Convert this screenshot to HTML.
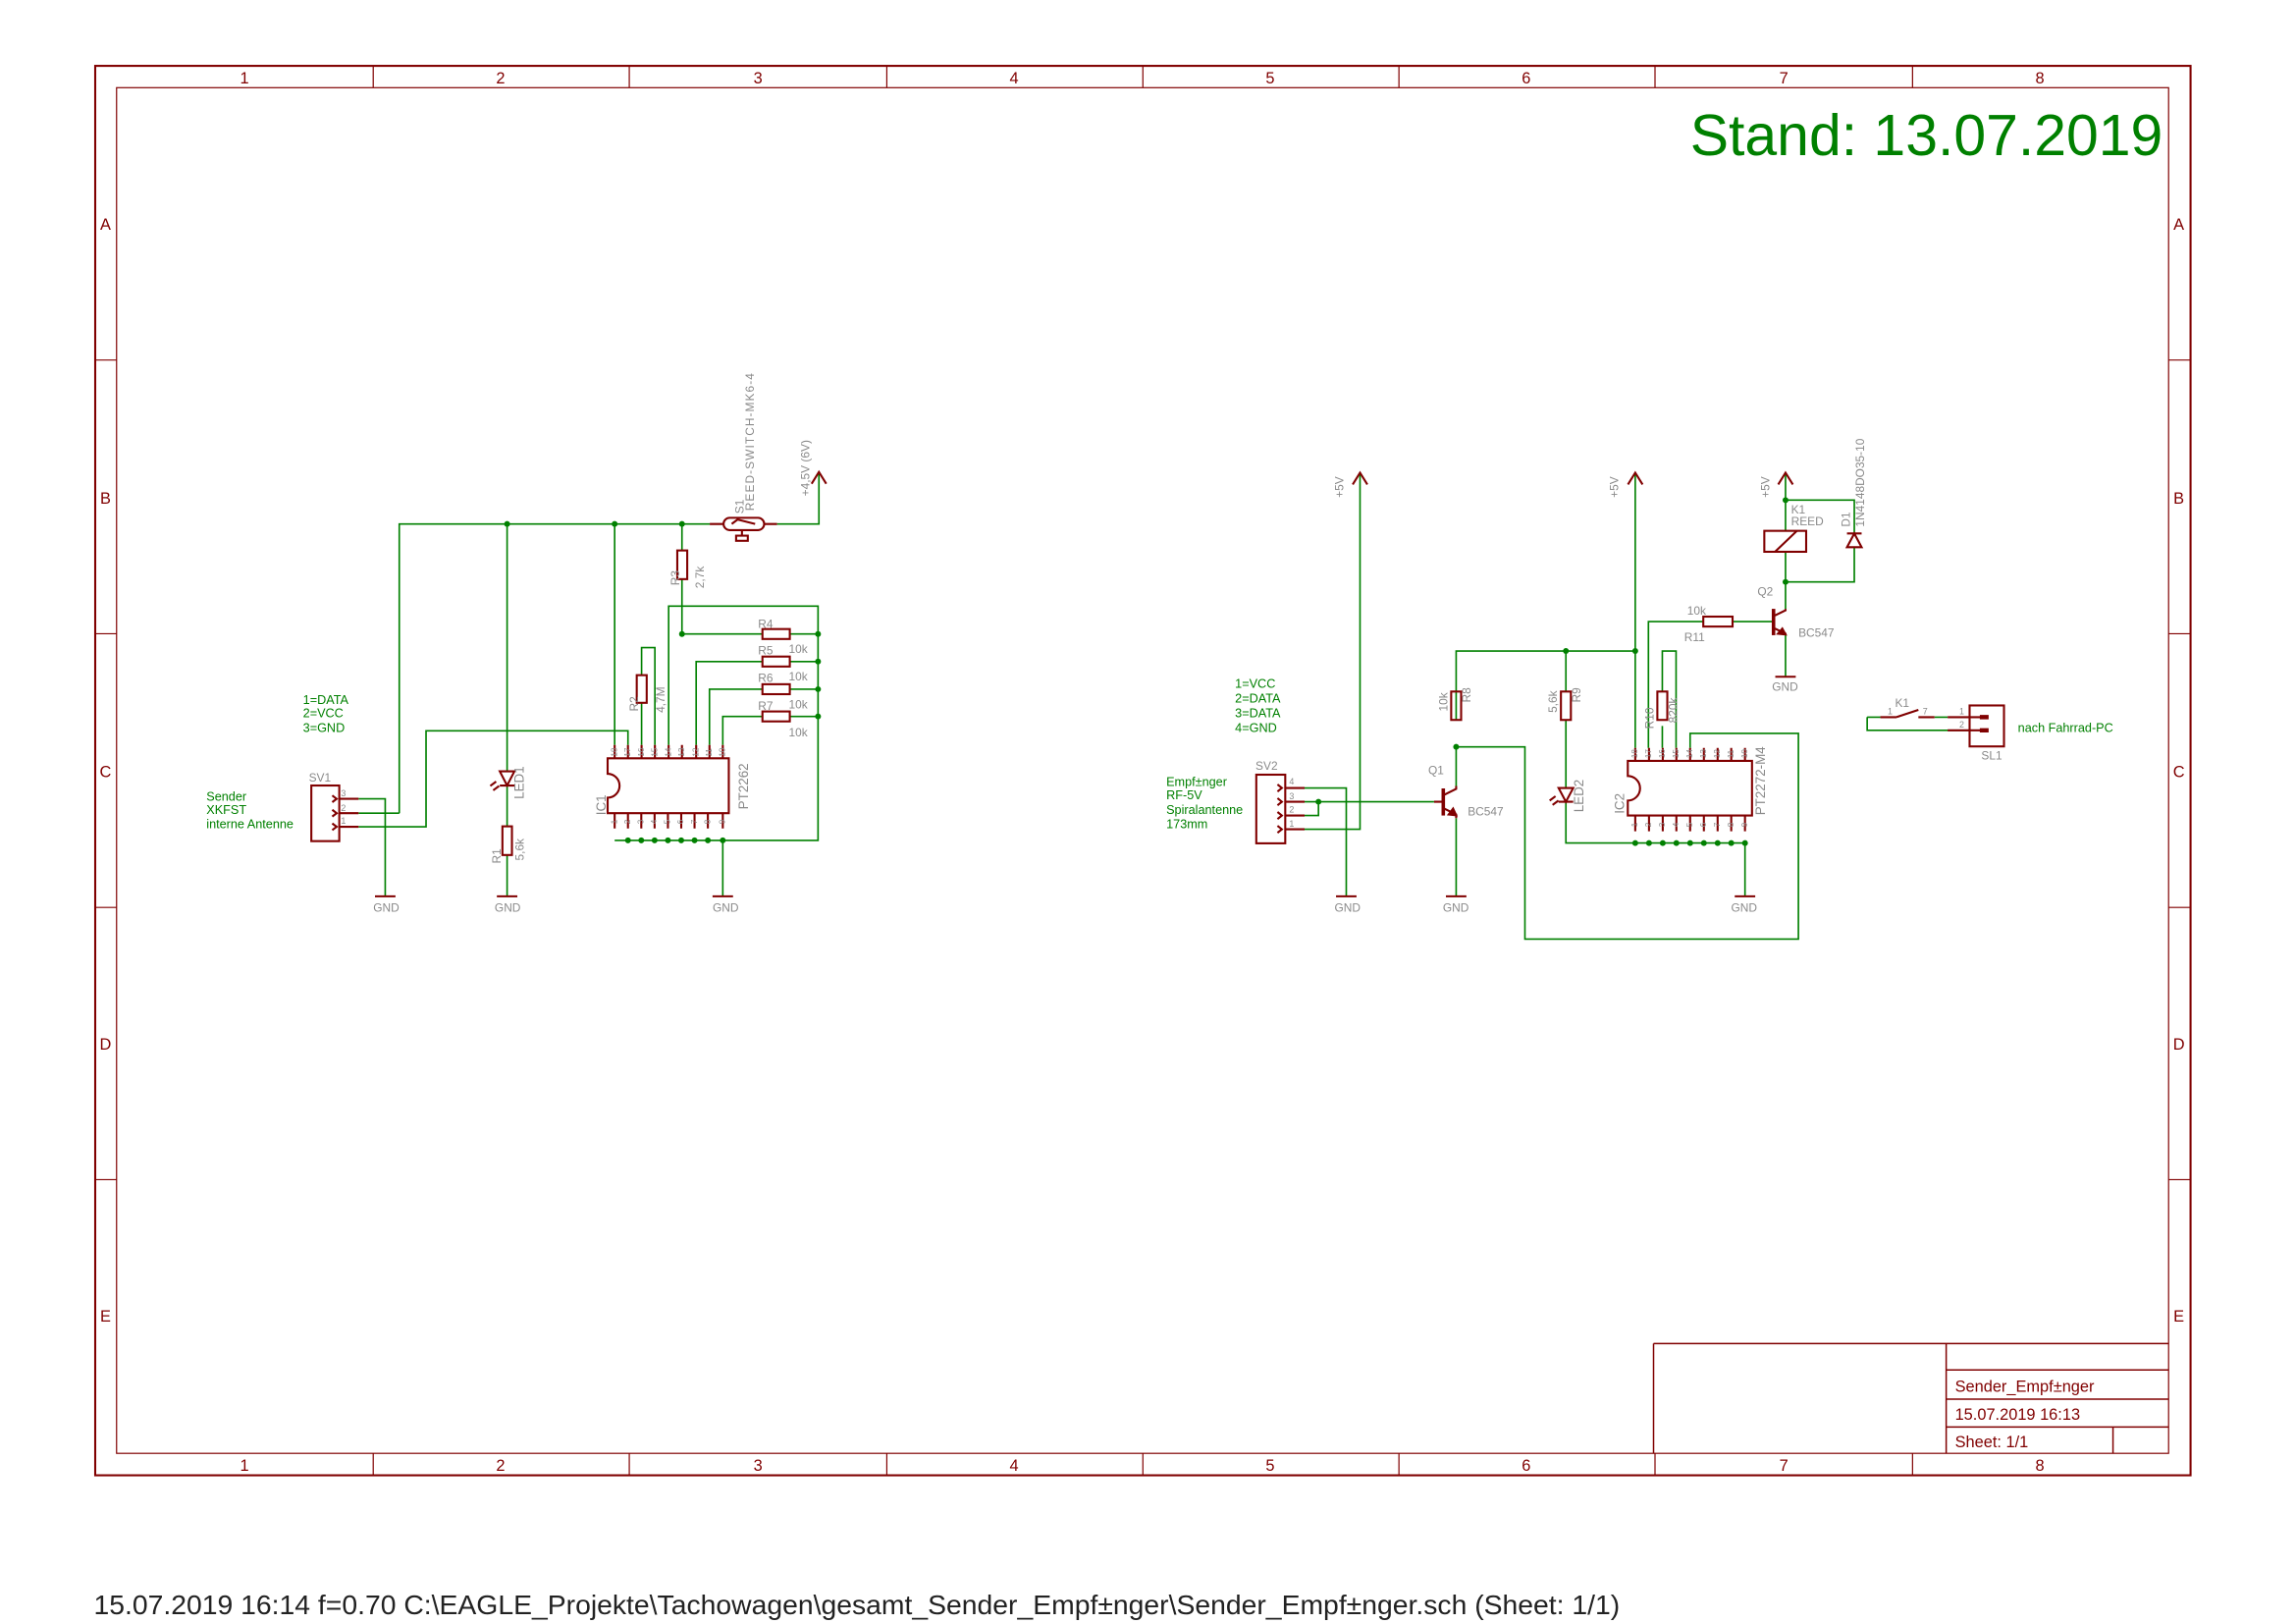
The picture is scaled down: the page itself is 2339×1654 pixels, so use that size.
<!DOCTYPE html>
<html><head><meta charset="utf-8"><style>
html,body{margin:0;padding:0;background:#fff;}
svg{display:block}
.w{stroke:#008000;stroke-width:1.1;fill:none}
.r{stroke:#800000;stroke-width:1.4;fill:none}
.f{stroke:#800000;fill:none}
text{font-family:"Liberation Sans",sans-serif}
.g{fill:#8a8a8a;font-size:8px}
.gn{fill:#008000;font-size:8.5px}
.fr{fill:#800000;font-size:11px}
.j{fill:#008000}
</style></head><body>
<svg width="2339" height="1654" viewBox="0 0 1569 1109.6" xmlns="http://www.w3.org/2000/svg">
<!-- frame -->
<rect x="65" y="45" width="1432" height="963" class="f" stroke-width="1.4"/>
<rect x="79.6" y="59.9" width="1402.4" height="933.1" class="f" stroke-width="0.8"/>
<g class="f" stroke-width="0.8">
<path d="M255 45V59.9M430 45V59.9M606 45V59.9M781 45V59.9M956 45V59.9M1131 45V59.9M1307 45V59.9"/>
<path d="M255 993V1008M430 993V1008M606 993V1008M781 993V1008M956 993V1008M1131 993V1008M1307 993V1008"/>
<path d="M65 246H79.6M65 433H79.6M65 620H79.6M65 806H79.6M1482 246H1497M1482 433H1497M1482 620H1497M1482 806H1497"/>
</g>
<g class="fr" text-anchor="middle">
<text x="167" y="57">1</text><text x="342" y="57">2</text><text x="518" y="57">3</text><text x="693" y="57">4</text><text x="868" y="57">5</text><text x="1043" y="57">6</text><text x="1219" y="57">7</text><text x="1394" y="57">8</text>
<text x="167" y="1005">1</text><text x="342" y="1005">2</text><text x="518" y="1005">3</text><text x="693" y="1005">4</text><text x="868" y="1005">5</text><text x="1043" y="1005">6</text><text x="1219" y="1005">7</text><text x="1394" y="1005">8</text>
<text x="72" y="157">A</text><text x="72" y="344">B</text><text x="72" y="531">C</text><text x="72" y="717">D</text><text x="72" y="903">E</text>
<text x="1489" y="157">A</text><text x="1489" y="344">B</text><text x="1489" y="531">C</text><text x="1489" y="717">D</text><text x="1489" y="903">E</text>
</g>
<text x="1155" y="106" fill="#008000" font-size="40" textLength="323" lengthAdjust="spacingAndGlyphs">Stand: 13.07.2019</text>
<!-- title block -->
<g class="f" stroke-width="1">
<path d="M1130 918H1482M1130 918V993M1330 918V993M1330 936H1482M1330 956H1482M1330 975H1482M1444 975V993"/>
</g>
<text x="1336" y="951" class="fr" font-size="12">Sender_Empf±nger</text>
<text x="1336" y="970" class="fr" font-size="10.5">15.07.2019 16:13</text>
<text x="1336" y="989" class="fr" font-size="12">Sheet:  1/1</text>
<text x="64" y="1103" font-size="18.5" fill="#222" textLength="1043" lengthAdjust="spacingAndGlyphs">15.07.2019 16:14  f=0.70  C:\EAGLE_Projekte\Tachowagen\gesamt_Sender_Empf±nger\Sender_Empf±nger.sch (Sheet: 1/1)</text>

<!-- ============ LEFT CIRCUIT ============ -->
<g class="w">
<path d="M272.8 555.6V358H485"/>
<path d="M531 358H559.6V324"/>
<path d="M245 545.8H263.2V612"/>
<path d="M245 555.6H272.8"/>
<path d="M245 564.9H291.1V499.3H429.1V509"/>
<path d="M346.5 358V527M346.5 536.7V564.6M346.5 584.2V612"/>
<path d="M420 358V509"/>
<path d="M466 358V376M466 395.7V433.2H521M539.7 433.2H559"/>
<path d="M456.9 509V414.1H559V574.2H420"/>
<path d="M438.4 509V480.2M438.4 461.3V442.5H447.5V509"/>
<path d="M475.7 509V452H521M539.7 452H559"/>
<path d="M484.8 509V470.9H521M539.7 470.9H559"/>
<path d="M493.9 509V489.5H521M539.7 489.5H559"/>
<path d="M493.9 574.2V612"/>
</g>
<g class="j">
<circle cx="346.5" cy="358" r="2"/><circle cx="420" cy="358" r="2"/><circle cx="466" cy="358" r="2"/>
<circle cx="466" cy="433.2" r="2"/><circle cx="559" cy="433.2" r="2"/><circle cx="559" cy="452" r="2"/><circle cx="559" cy="470.9" r="2"/><circle cx="559" cy="489.5" r="2"/>
<circle cx="429.1" cy="574.2" r="2"/><circle cx="438.2" cy="574.2" r="2"/><circle cx="447.3" cy="574.2" r="2"/><circle cx="456.4" cy="574.2" r="2"/><circle cx="465.5" cy="574.2" r="2"/><circle cx="474.6" cy="574.2" r="2"/><circle cx="483.7" cy="574.2" r="2"/><circle cx="493.9" cy="574.2" r="2"/>
</g>
<g class="r">
<rect x="212.7" y="536.7" width="19.1" height="38"/>
<path d="M231.8 545.8H245M231.8 555.6H245M231.8 564.9H245"/>
<path d="M227 543.5l3 2.3l-3 2.3M227 553.3l3 2.3l-3 2.3M227 562.6l3 2.3l-3 2.3"/>
<rect x="494.4" y="353.8" width="27.8" height="8.4" rx="4.2"/>
<path d="M485 358H494.4M522.2 358H531M500 358l4-3l12 3"/>
<rect x="503" y="366" width="8" height="3.5"/>
<path d="M507 362V366"/>
<path d="M554.6 330.5L559.6 322.5L564.6 330.5"/>
<path d="M341.5 527H351.5L346.5 536.7Z M341.5 536.7H351.5"/>
<path d="M339 534l-4 3M341 537l-4 3"/>
<rect x="343.3" y="564.6" width="6.5" height="19.6"/>
<rect x="462.8" y="376.1" width="6.8" height="19.6"/>
<rect x="435.1" y="461.3" width="6.8" height="18.9"/>
<rect x="521" y="429.8" width="18.7" height="6.8"/>
<rect x="521" y="448.6" width="18.7" height="6.8"/>
<rect x="521" y="467.5" width="18.7" height="6.8"/>
<rect x="521" y="486.1" width="18.7" height="6.8"/>
<path d="M415.2 518.1H498V555.6H415.2V545A8 8 0 0 0 415.2 528.7Z"/>
<path d="M420 509V518.1M429.1 509V518.1M438.4 509V518.1M447.5 509V518.1M456.9 509V518.1M466 509V518.1M475.7 509V518.1M484.8 509V518.1M493.9 509V518.1"/>
<path d="M420 555.6V566M429.1 555.6V566M438.2 555.6V566M447.3 555.6V566M456.4 555.6V566M465.5 555.6V566M474.6 555.6V566M483.7 555.6V566M493.9 555.6V566"/>
<path d="M256.2 612.4H270.2M339.5 612.4H353.5M486.9 612.4H500.9"/>
</g>
<g class="g">
<text x="211" y="534">SV1</text>
<text x="233" y="544" font-size="6">3</text><text x="233" y="554" font-size="6">2</text><text x="233" y="563" font-size="6">1</text>
<text x="255" y="623">GND</text><text x="338" y="623">GND</text><text x="487" y="623">GND</text>
<text x="518" y="429">R4</text>
<text x="518" y="447">R5</text><text x="539" y="446">10k</text>
<text x="518" y="466">R6</text><text x="539" y="465">10k</text>
<text x="518" y="485">R7</text><text x="539" y="484">10k</text>
<text x="539" y="503">10k</text>
<text transform="translate(508 351) rotate(-90)">S1</text>
<text transform="translate(515 349) rotate(-90)" textLength="94">REED-SWITCH-MK6-4</text>
<text transform="translate(553 339) rotate(-90)">+4,5V (6V)</text>
<text transform="translate(464 400) rotate(-90)">R3</text>
<text transform="translate(481 402) rotate(-90)">2,7k</text>
<text transform="translate(436 486) rotate(-90)">R2</text>
<text transform="translate(454 487) rotate(-90)">4,7M</text>
<text transform="translate(342 590) rotate(-90)">R1</text>
<text transform="translate(358 588) rotate(-90)">5,6k</text>
<text transform="translate(358 546) rotate(-90)" font-size="9">LED1</text>
<text transform="translate(414 557) rotate(-90)" font-size="9">IC1</text>
<text transform="translate(511 553) rotate(-90)" font-size="9">PT2262</text>
<g font-size="5.5">
<text transform="translate(421.5 517) rotate(-90)">18</text><text transform="translate(430.6 517) rotate(-90)">17</text><text transform="translate(439.9 517) rotate(-90)">16</text><text transform="translate(449 517) rotate(-90)">15</text><text transform="translate(458.4 517) rotate(-90)">14</text><text transform="translate(467.5 517) rotate(-90)">13</text><text transform="translate(477.2 517) rotate(-90)">12</text><text transform="translate(486.3 517) rotate(-90)">11</text><text transform="translate(495.4 517) rotate(-90)">10</text>
<text transform="translate(421.5 563) rotate(-90)">1</text><text transform="translate(430.6 563) rotate(-90)">2</text><text transform="translate(439.7 563) rotate(-90)">3</text><text transform="translate(448.8 563) rotate(-90)">4</text><text transform="translate(457.9 563) rotate(-90)">5</text><text transform="translate(467 563) rotate(-90)">6</text><text transform="translate(476.1 563) rotate(-90)">7</text><text transform="translate(485.2 563) rotate(-90)">8</text><text transform="translate(495.4 563) rotate(-90)">9</text>
</g>
</g>
<g class="gn">
<text x="207" y="481">1=DATA</text><text x="207" y="490">2=VCC</text><text x="207" y="500">3=GND</text>
<text x="141" y="547">Sender</text><text x="141" y="556">XKFST</text><text x="141" y="566">interne Antenne</text>
</g>

<!-- ============ RIGHT CIRCUIT ============ -->
<g class="w">
<path d="M891.5 566.6H929.4V324"/>
<path d="M891.5 538.4H920V612"/>
<path d="M891.5 547.8H980M891.5 557.2H901V547.8"/>
<path d="M995.1 537V510.3M995.1 491.9V472.5M995.1 472.5V444.8H1117.5"/>
<path d="M995.1 510.3H1042.1V641.6H1229V501.1H1155V511"/>
<path d="M995.1 559V612"/>
<path d="M1070.1 444.8V472.5M1070.1 491.9V538.4M1070.1 547.8V576H1192.5"/>
<path d="M1117.5 324V511"/>
<path d="M1126.5 511V424.7H1164M1184 424.7H1212"/>
<path d="M1136 511V496M1136 472.5V444.8H1145.4V511"/>
<path d="M1192.5 576V612"/>
<path d="M1220.2 324V362.7M1220.2 377V397.6M1220.2 397.6V416"/>
<path d="M1220.2 341.7H1267.2V364.5M1267.2 373.9V397.6H1220.2"/>
<path d="M1220.2 434V462"/>
<path d="M1276 490V499H1346M1276 490H1285M1322 490H1331"/>
</g>
<g class="j">
<circle cx="901" cy="547.8" r="2"/><circle cx="995.1" cy="510.3" r="2"/><circle cx="1070.1" cy="444.8" r="2"/><circle cx="1117.5" cy="444.8" r="2"/>
<circle cx="1220.2" cy="341.7" r="2"/><circle cx="1220.2" cy="397.6" r="2"/>
<circle cx="1117.5" cy="576" r="2"/><circle cx="1126.9" cy="576" r="2"/><circle cx="1136.3" cy="576" r="2"/><circle cx="1145.6" cy="576" r="2"/><circle cx="1155" cy="576" r="2"/><circle cx="1164.4" cy="576" r="2"/><circle cx="1173.8" cy="576" r="2"/><circle cx="1183.1" cy="576" r="2"/><circle cx="1192.5" cy="576" r="2"/>
</g>
<g class="r">
<rect x="858.5" y="529.3" width="19.8" height="46.9"/>
<path d="M878.3 538.4H891.5M878.3 547.8H891.5M878.3 557.2H891.5M878.3 566.6H891.5"/>
<path d="M873 536l3 2.4l-3 2.4M873 545.4l3 2.4l-3 2.4M873 554.8l3 2.4l-3 2.4M873 564.2l3 2.4l-3 2.4"/>
<path d="M924.4 331L929.4 323L934.4 331M1112.5 331L1117.5 323L1122.5 331M1215.2 331L1220.2 323L1225.2 331"/>
<path d="M986.3 538.7V557.2" stroke-width="2.4"/>
<path d="M980 547.8H986.3M987 543L995.1 539V537M987 552.5L995.1 556.5V559"/>
<path d="M995.1 557L990 556.5L993 552.5Z" fill="#800000"/>
<rect x="991.7" y="472.5" width="6.8" height="19.4"/>
<rect x="1066.7" y="472.5" width="6.8" height="19.4"/>
<rect x="1132.6" y="472.5" width="6.8" height="19.4"/>
<path d="M1065.1 538.4H1075.1L1070.1 547.8Z M1065.1 547.8H1075.1"/>
<path d="M1063 544l-4 3M1065 547l-4 3"/>
<path d="M1112.4 519.9H1197.3V557.2H1112.4V547A8.4 8.4 0 0 0 1112.4 530.2Z"/>
<path d="M1117.5 511V519.9M1126.9 511V519.9M1136.3 511V519.9M1145.6 511V519.9M1155 511V519.9M1164.4 511V519.9M1173.8 511V519.9M1183.1 511V519.9M1192.5 511V519.9"/>
<path d="M1117.5 557.2V568M1126.9 557.2V568M1136.3 557.2V568M1145.6 557.2V568M1155 557.2V568M1164.4 557.2V568M1173.8 557.2V568M1183.1 557.2V568M1192.5 557.2V568"/>
<rect x="1164" y="421.3" width="20" height="6.8"/>
<path d="M1212 416V434" stroke-width="2.4"/>
<path d="M1213 420.5L1220.2 417V416M1213 429.5L1220.2 433V434"/>
<path d="M1220.2 433.5L1215 433L1218 429.5Z" fill="#800000"/>
<rect x="1205.7" y="362.7" width="28.6" height="14.3"/>
<path d="M1213 377L1228 362.7"/>
<path d="M1262.2 373.9H1272.2L1267.2 364.5Z M1262.2 364.5H1272.2"/>
<path d="M913 612.4H927M988.1 612.4H1002.1M1185.5 612.4H1199.5M1213.2 462.4H1227.2"/>
<path d="M1285 490H1296M1296 490L1311 485M1311 490H1322M1331 490H1356M1331 499H1356"/>
<rect x="1346" y="482" width="23.5" height="28"/>
<path d="M1353 490H1359M1353 499H1359" stroke-width="3"/>
</g>
<g class="g">
<text x="858" y="526">SV2</text>
<g font-size="6"><text x="881" y="536">4</text><text x="881" y="546">3</text><text x="881" y="555">2</text><text x="881" y="565">1</text></g>
<text transform="translate(918 340) rotate(-90)">+5V</text>
<text transform="translate(1106 340) rotate(-90)">+5V</text>
<text transform="translate(1209 340) rotate(-90)">+5V</text>
<text x="912" y="623">GND</text><text x="986" y="623">GND</text><text x="1183" y="623">GND</text><text x="1211" y="472">GND</text>
<text x="976" y="529">Q1</text><text x="1003" y="557">BC547</text>
<text x="1201" y="407">Q2</text><text x="1229" y="435">BC547</text>
<text x="1153" y="420">10k</text><text x="1151" y="438">R11</text>
<text x="1224" y="351">K1</text><text x="1224" y="359">REED</text>
<text transform="translate(1264 360) rotate(-90)">D1</text>
<text transform="translate(1274 360) rotate(-90)">1N4148DO35-10</text>
<text transform="translate(989 486) rotate(-90)">10k</text>
<text transform="translate(1005 480) rotate(-90)">R8</text>
<text transform="translate(1064 487) rotate(-90)">5,6k</text>
<text transform="translate(1080 480) rotate(-90)">R9</text>
<text transform="translate(1130 498) rotate(-90)">R10</text>
<text transform="translate(1146 494) rotate(-90)">820k</text>
<text transform="translate(1082 555) rotate(-90)" font-size="9">LED2</text>
<text transform="translate(1110 556) rotate(-90)" font-size="9">IC2</text>
<text transform="translate(1206 557) rotate(-90)" font-size="9">PT2272-M4</text>
<g font-size="5.5">
<text transform="translate(1119 518) rotate(-90)">18</text><text transform="translate(1128.4 518) rotate(-90)">17</text><text transform="translate(1137.8 518) rotate(-90)">16</text><text transform="translate(1147.1 518) rotate(-90)">15</text><text transform="translate(1156.5 518) rotate(-90)">14</text><text transform="translate(1165.9 518) rotate(-90)">13</text><text transform="translate(1175.3 518) rotate(-90)">12</text><text transform="translate(1184.6 518) rotate(-90)">11</text><text transform="translate(1194 518) rotate(-90)">10</text>
<text transform="translate(1119 565) rotate(-90)">1</text><text transform="translate(1128.4 565) rotate(-90)">2</text><text transform="translate(1137.8 565) rotate(-90)">3</text><text transform="translate(1147.1 565) rotate(-90)">4</text><text transform="translate(1156.5 565) rotate(-90)">5</text><text transform="translate(1165.9 565) rotate(-90)">6</text><text transform="translate(1175.3 565) rotate(-90)">7</text><text transform="translate(1184.6 565) rotate(-90)">8</text><text transform="translate(1194 565) rotate(-90)">9</text>
</g>
<text x="1295" y="483">K1</text>
<text x="1290" y="488" font-size="6">1</text><text x="1314" y="488" font-size="6">7</text>
<text x="1339" y="488" font-size="6">1</text><text x="1339" y="497" font-size="6">2</text>
<text x="1354" y="519">SL1</text>
</g>
<g class="gn">
<text x="844" y="470">1=VCC</text><text x="844" y="480">2=DATA</text><text x="844" y="490">3=DATA</text><text x="844" y="500">4=GND</text>
<text x="797" y="537">Empf±nger</text><text x="797" y="546">RF-5V</text><text x="797" y="556">Spiralantenne</text><text x="797" y="566">173mm</text>
<text x="1379" y="500">nach Fahrrad-PC</text>
</g>
</svg>
</body></html>
